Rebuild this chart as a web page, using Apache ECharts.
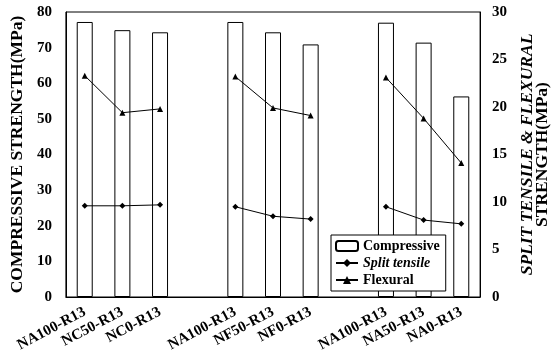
<!DOCTYPE html>
<html>
<head>
<meta charset="utf-8">
<script src="https://cdn.jsdelivr.net/npm/echarts@6/dist/echarts.min.js"></script>
<style>
  html, body { margin: 0; padding: 0; background: #fff; }
  #chart { width: 559px; height: 364px; }
</style>
</head>
<body>
<div id="chart"></div>
<script>
// mixes, with empty slots between groups
var categories = ["NA100-R13", "NC50-R13", "NC0-R13", "", "NA100-R13", "NF50-R13", "NF0-R13", "", "NA100-R13", "NA50-R13", "NA0-R13"];
var compressive = [77.2, 74.9, 74.3, null, 77.2, 74.3, 70.9, null, 77.0, 71.4, 56.3];
var splitTensile = [9.6, 9.6, 9.7, null, 9.5, 8.5, 8.2, null, 9.5, 8.1, 7.7];
var flexural = [23.3, 19.4, 19.8, null, 23.2, 19.9, 19.1, null, 23.1, 18.8, 14.1];

var font = "Liberation Serif";
var myChart = echarts.init(document.getElementById("chart"));

var option = {
  backgroundColor: "#fff",
  animation: false,
  textStyle: { fontFamily: font, color: "#000", fontWeight: 700 },
  grid: {
    left: 62, right: 72, top: 12, bottom: 67,
    show: true, borderColor: "#000", borderWidth: 1
  },
  legend: {
    left: 331, top: 235,
    orient: "vertical",
    backgroundColor: "#fff",
    borderColor: "#000",
    borderWidth: 1,
    padding: [4, 6, 4, 4],
    itemGap: 3,
    itemWidth: 22,
    itemHeight: 10,
    textStyle: { fontFamily: font, fontWeight: 700, fontSize: 14, color: "#000" },
    data: [
      { name: "Compressive" },
      { name: "Split tensile", textStyle: { fontStyle: "italic" } },
      { name: "Flexural" }
    ]
  },
  xAxis: {
    type: "category",
    data: categories,
    axisLine: { lineStyle: { color: "#000" } },
    axisTick: { show: false },
    axisLabel: {
      interval: 0,
      rotate: 28,
      margin: 14,
      fontFamily: font,
      fontWeight: 700,
      fontSize: 15,
      color: "#000"
    }
  },
  yAxis: [
    {
      type: "value",
      min: 0, max: 80, interval: 10,
      name: "COMPRESSIVE STRENGTH(MPa)",
      nameLocation: "middle",
      nameRotate: 90,
      nameGap: 38,
      nameTextStyle: { fontFamily: font, fontWeight: 700, fontSize: 17.5, color: "#000" },
      axisLine: { show: true, lineStyle: { color: "#000" } },
      axisTick: { show: false },
      splitLine: { show: false },
      axisLabel: { fontFamily: font, fontWeight: 700, fontSize: 15, color: "#000", margin: 14 }
    },
    {
      type: "value",
      position: "right",
      min: 0, max: 30, interval: 5,
      name: "{i|SPLIT TENSILE & FLEXURAL}\n{b|STRENGTH(MPa)}",
      nameLocation: "middle",
      nameRotate: 90,
      nameGap: 38,
      nameTextStyle: {
        fontFamily: font, fontWeight: 700, fontSize: 17.5, color: "#000",
        rich: {
          i: { fontFamily: font, fontWeight: 700, fontStyle: "italic", fontSize: 17.5, lineHeight: 15, color: "#000" },
          b: { fontFamily: font, fontWeight: 700, fontSize: 17.5, lineHeight: 15, color: "#000" }
        }
      },
      axisLine: { show: true, lineStyle: { color: "#000" } },
      axisTick: { show: false },
      splitLine: { show: false },
      axisLabel: { fontFamily: font, fontWeight: 700, fontSize: 15, color: "#000", margin: 12 }
    }
  ],
  series: [
    {
      name: "Compressive",
      type: "bar",
      yAxisIndex: 0,
      barWidth: 16,
      itemStyle: { color: "#fff", borderColor: "#000", borderWidth: 1 },
      data: compressive
    },
    {
      name: "Split tensile",
      type: "line",
      yAxisIndex: 1,
      symbol: "diamond",
      symbolSize: 6,
      connectNulls: false,
      lineStyle: { color: "#000", width: 1 },
      itemStyle: { color: "#000" },
      data: splitTensile
    },
    {
      name: "Flexural",
      type: "line",
      yAxisIndex: 1,
      symbol: "triangle",
      symbolSize: 6,
      connectNulls: false,
      lineStyle: { color: "#000", width: 1 },
      itemStyle: { color: "#000" },
      data: flexural
    }
  ]
};

myChart.setOption(option);
</script>
</body>
</html>
